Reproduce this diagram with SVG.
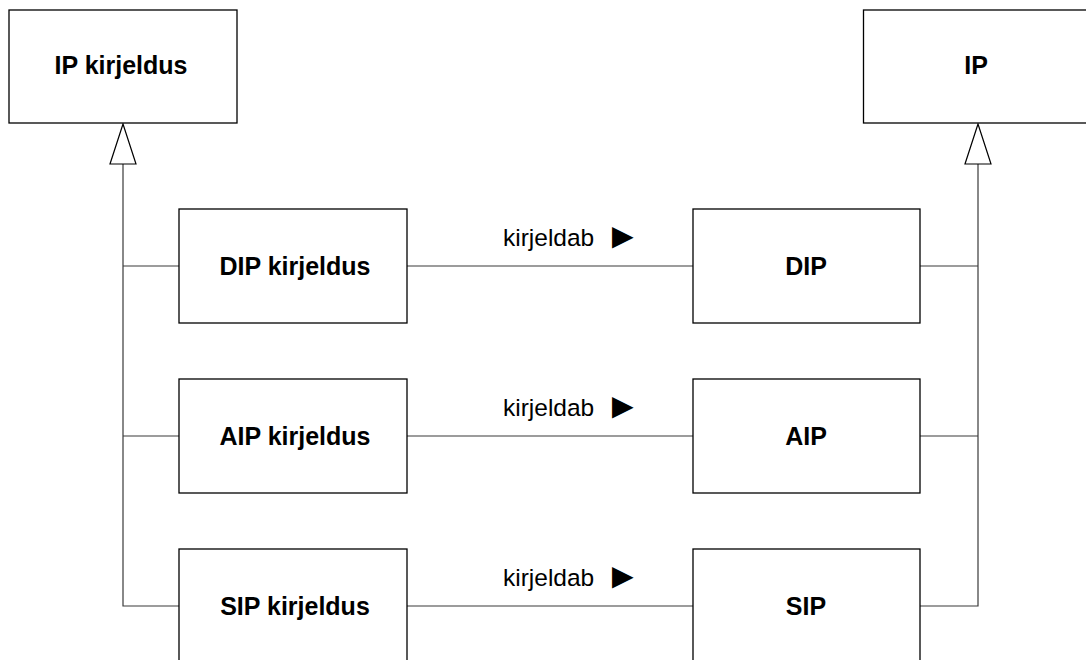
<svg xmlns="http://www.w3.org/2000/svg" width="1086" height="660" viewBox="0 0 1086 660">
  <style>
    .box { fill: #ffffff; stroke: #000000; stroke-width: 1.3; }
    .name { font-family: "Liberation Sans", Arial, sans-serif; font-weight: bold; font-size: 25px; fill: #000000; text-anchor: middle; }
    .lbl { font-family: "Liberation Sans", "DejaVu Sans", Arial, sans-serif; font-size: 24.5px; fill: #000000; }
    .lbl .dir { font-size: 36px; }
    .wire { fill: none; stroke: #3a3a3a; stroke-width: 1.2; }
    .gen { fill: #ffffff; stroke: #000000; stroke-width: 1.2; }
  </style>

  <!-- connectors: generalisation trees and association lines -->
  <g id="connectors">
    <path class="wire" d="M123,164 V606 H179 M123,266 H179 M123,436 H179"/>
    <path class="wire" d="M978,164 V606 H920 M978,266 H920 M978,436 H920"/>
    <path class="wire" d="M407,266 H693 M407,436 H693 M407,606 H693"/>
    <polygon class="gen" points="123,124 110,164 136,164"/>
    <polygon class="gen" points="978,124 965,164 991,164"/>
    <text class="lbl" x="503" y="246">kirjeldab <tspan class="dir" dx="4" dy="2">►</tspan></text>
    <text class="lbl" x="503" y="416">kirjeldab <tspan class="dir" dx="4" dy="2">►</tspan></text>
    <text class="lbl" x="503" y="586">kirjeldab <tspan class="dir" dx="4" dy="2">►</tspan></text>
  </g>

  <g id="ip-kirjeldus">
    <rect class="box" x="9" y="10" width="228" height="113"/>
    <text class="name" x="121" y="74">IP kirjeldus</text>
  </g>
  <g id="ip">
    <rect class="box" x="863.5" y="10" width="240" height="113"/>
    <text class="name" x="976" y="74">IP</text>
  </g>

  <g id="dip-kirjeldus">
    <rect class="box" x="179" y="209" width="228" height="114"/>
    <text class="name" x="295" y="275">DIP kirjeldus</text>
  </g>
  <g id="dip">
    <rect class="box" x="693" y="209" width="227" height="114"/>
    <text class="name" x="806" y="275">DIP</text>
  </g>

  <g id="aip-kirjeldus">
    <rect class="box" x="179" y="379" width="228" height="114"/>
    <text class="name" x="295" y="445">AIP kirjeldus</text>
  </g>
  <g id="aip">
    <rect class="box" x="693" y="379" width="227" height="114"/>
    <text class="name" x="806" y="445">AIP</text>
  </g>

  <g id="sip-kirjeldus">
    <rect class="box" x="179" y="549" width="228" height="130"/>
    <text class="name" x="295" y="615">SIP kirjeldus</text>
  </g>
  <g id="sip">
    <rect class="box" x="693" y="549" width="227" height="130"/>
    <text class="name" x="806" y="615">SIP</text>
  </g>
</svg>
